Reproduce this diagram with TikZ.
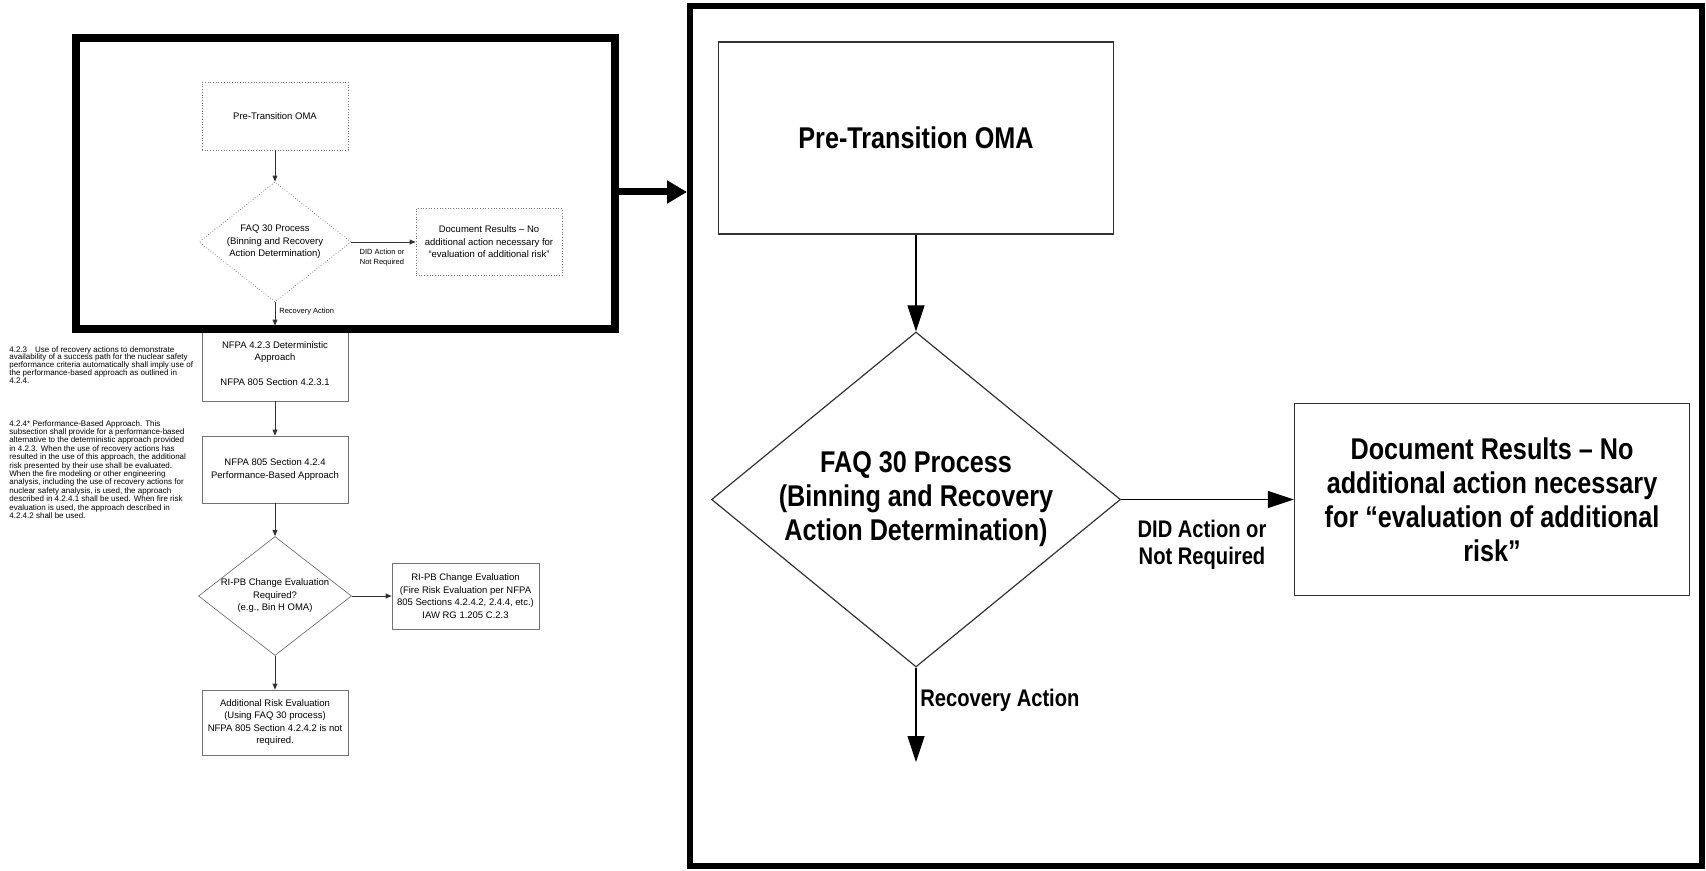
\documentclass[tikz,border=0pt]{standalone}
\usepackage{fontspec}
\setmainfont{Liberation Sans}
\newfontfamily\narrowfont[FakeStretch=0.84]{Liberation Sans}
\usetikzlibrary{arrows.meta,shapes.geometric}

\begin{document}
\begin{tikzpicture}[x=0.5pt,y=-0.5pt,
  zoomframe/.style={draw=black,inner sep=0pt},
  bigbox/.style={draw=black!80,line width=0.6pt,minimum width=197.5pt,minimum height=96pt,align=center,font=\bigtxt},
  bigdec/.style={diamond,draw=black!80,line width=0.6pt,shape aspect=1.22,inner sep=0pt,minimum width=204.5pt,minimum height=167.5pt,align=center,font=\bigtxt},
  bigarrow/.style={draw=black,line width=0.6pt,-{Triangle[length=13pt,width=8.5pt]}},
  biglbl/.style={align=center,font=\biglbltxt,inner sep=0pt},
  smallbox/.style={draw=faint,line width=0.35pt,minimum width=73pt,minimum height=34pt,align=center,font=\smalltxt,inner sep=1pt},
  smalldec/.style={diamond,draw=faint,line width=0.35pt,inner sep=0pt,align=center,font=\smalltxt},
  smallarrow/.style={draw=black!80,line width=0.4pt,-{Triangle[length=3pt,width=2.4pt]}},
  smalllbl/.style={align=center,font=\tinytxt,inner sep=0pt},
  clause/.style={align=left,anchor=north west,inner sep=0pt}]
  \def\bigtxt{\narrowfont\fontsize{15}{17}\selectfont\bfseries}
  \def\biglbltxt{\narrowfont\fontsize{12}{13.5}\selectfont\bfseries}
  \def\smalltxt{\fontsize{4.75}{6.25}\selectfont}
  \def\tinytxt{\fontsize{3.75}{5}\selectfont}
  \def\clausetxt{\fontsize{4}{3.9}\selectfont}
  \colorlet{faint}{black!55}

  \useasboundingbox (0,0) rectangle (1706,871);

  % zoomed view of the first step
  \node[bigbox] (preB) at (916,138) {Pre-Transition OMA};
  \node[bigdec] (faqB) at (916,499.5) {FAQ 30 Process\\(Binning and Recovery\\Action Determination)};
  \node[bigbox] (docB) at (1492,499.5) {Document Results – No\\additional action necessary\\for “evaluation of additional\\risk”};
  \coordinate (recB) at (916,762);

  \draw[bigarrow] (preB.south) -- (faqB.north);
  \draw[bigarrow] (faqB.east) -- (docB.west);
  \draw[bigarrow] (faqB.south) -- (recB);
  \node[biglbl] (didB) at (1202,545) {DID Action or\\Not Required};
  \node[biglbl,anchor=west] (recLblB) at (920,700) {Recovery Action};

  % whole flow, small
  \node[smallbox,densely dotted] (preS) at (275,116) {Pre-Transition OMA};
  \node[smalldec,densely dotted,shape aspect=1.27,minimum width=76pt,minimum height=60pt]
    (faqS) at (275,242) {FAQ 30 Process\\(Binning and Recovery\\Action Determination)};
  \node[smallbox,densely dotted,minimum height=33.5pt] (docS) at (489,242)
    {Document Results – No\\additional action necessary for\\“evaluation of additional risk”};
  \node[smalllbl] (didS) at (382,258) {DID Action or\\Not Required};
  \node[smalllbl,anchor=west] (recLblS) at (279,312) {Recovery Action};

  \node[smallbox,minimum height=37.5pt] (nfpaA) at (275,363.5)
    {NFPA 4.2.3 Deterministic\\Approach\\[6.25pt]NFPA 805 Section 4.2.3.1};
  \node[smallbox,minimum height=33.5pt] (nfpaB) at (275,469.5)
    {NFPA 805 Section 4.2.4\\Performance-Based Approach};
  \node[smalldec,shape aspect=1.29,minimum width=76.5pt,minimum height=59.5pt]
    (riD) at (275,596) {RI-PB Change Evaluation\\Required?\\(e.g., Bin H OMA)};
  \node[smallbox,minimum width=73.5pt,minimum height=33pt] (riBox) at (465.5,596)
    {RI-PB Change Evaluation\\(Fire Risk Evaluation per NFPA\\805 Sections 4.2.4.2, 2.4.4, etc.)\\IAW RG 1.205 C.2.3};
  \node[smallbox,minimum height=32.5pt] (addBox) at (275,722.5)
    {Additional Risk Evaluation\\(Using FAQ 30 process)\\NFPA 805 Section 4.2.4.2 is not\\required.};

  \draw[smallarrow] (preS) -- (faqS);
  \draw[smallarrow] (faqS.east) -- (docS.west);
  \draw[smallarrow] (faqS.south) -- (nfpaA.north);
  \draw[smallarrow] (nfpaA) -- (nfpaB);
  \draw[smallarrow] (nfpaB) -- (riD);
  \draw[smallarrow] (riD.east) -- (riBox.west);
  \draw[smallarrow] (riD) -- (addBox);

  \node[clause,font=\clausetxt] (cl423) at (9,346)
    {4.2.3\quad Use of recovery actions to demonstrate\\
     availability of a success path for the nuclear safety\\
     performance criteria automatically shall imply use of\\
     the performance-based approach as outlined in\\
     4.2.4.};
  \node[clause,font=\fontsize{4}{4.2}\selectfont] (cl424) at (9,420)
    {4.2.4* Performance-Based Approach. This\\
     subsection shall provide for a performance-based\\
     alternative to the deterministic approach provided\\
     in 4.2.3. When the use of recovery actions has\\
     resulted in the use of this approach, the additional\\
     risk presented by their use shall be evaluated.\\
     When the fire modeling or other engineering\\
     analysis, including the use of recovery actions for\\
     nuclear safety analysis, is used, the approach\\
     described in 4.2.4.1 shall be used. When fire risk\\
     evaluation is used, the approach described in\\
     4.2.4.2 shall be used.};

  % frames and the zoom arrow
  \node[zoomframe,line width=4pt,minimum width=269.5pt,minimum height=145.5pt] (srcFrame) at (345.5,183.5) {};
  \node[zoomframe,line width=3pt,minimum width=506pt,minimum height=430pt] (dstFrame) at (1196,436) {};
  \draw[line width=3.5pt,-{Triangle[length=10pt,width=11pt]}] (srcFrame.east |- 0,192) -- (dstFrame.west |- 0,192);
\end{tikzpicture}
\end{document}
